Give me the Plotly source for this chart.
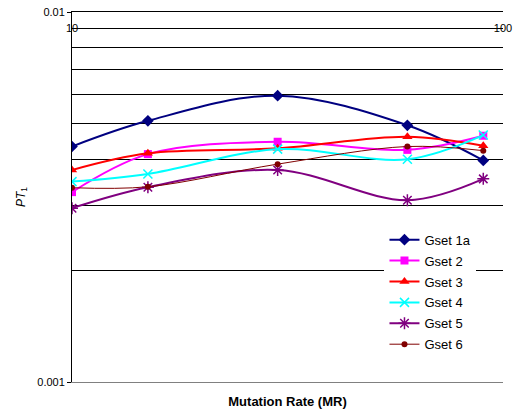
import plotly.graph_objects as go

mutation_rate = [10, 15, 30, 60, 90]
gset_1a = [0.00433, 0.00508, 0.00594, 0.00494, 0.00397]
gset_2 = [0.00326, 0.00413, 0.00446, 0.00424, 0.00463]
gset_3 = [0.00374, 0.00415, 0.00428, 0.00460, 0.00435]
gset_4 = [0.00348, 0.00365, 0.00426, 0.00400, 0.00465]
gset_5 = [0.00295, 0.00336, 0.00374, 0.00310, 0.00354]
gset_6 = [0.00335, 0.00337, 0.00388, 0.00433, 0.00422]

series_names = ["Gset 1a", "Gset 2", "Gset 3", "Gset 4", "Gset 5", "Gset 6"]
series_values = [gset_1a, gset_2, gset_3, gset_4, gset_5, gset_6]
colors = ["#000080", "#FF00FF", "#FF0000", "#00FFFF", "#800080", "#800000"]
symbols = ["diamond", "square", "triangle-up", "x-thin-open", "asterisk-open", "circle"]
sizes = [9, 8, 9, 9, 10, 6]
widths = [2, 2, 2, 2, 2, 1]
# both x axes share the same fixed log range; the last series sits on the top axis
axis_of_series = ["x", "x", "x", "x", "x", "x2"]

y_major = [0.001, 0.01]
y_major_text = ["0.001", "0.01"]
y_minor = [0.002, 0.003, 0.004, 0.005, 0.006, 0.007, 0.008, 0.009]
x_ticks = [10, 100]
x_tick_text = ["10", "100"]

FONT = "Liberation Sans, Arial, sans-serif"

fig = go.Figure()
for name, vals, c, s, sz, w, ax in zip(series_names, series_values, colors, symbols, sizes, widths, axis_of_series):
    mk = dict(symbol=s, size=sz, color=c)
    if s.endswith("open"):
        mk["line"] = dict(color=c, width=1.5)
    fig.add_trace(go.Scatter(
        x=mutation_rate, y=vals, name=name, mode="lines+markers",
        xaxis=ax, yaxis="y", legendgroup=name,
        line=dict(color=c, width=w, shape="spline", smoothing=1.0),
        marker=mk,
    ))

fig.update_layout(
    width=519, height=415,
    margin=dict(l=72, r=16, t=12, b=33, autoexpand=False),
    paper_bgcolor="white", plot_bgcolor="white",
    font=dict(family=FONT, size=11, color="black"),
    showlegend=True,
    legend=dict(x=0.725, y=0.425, xanchor="left", yanchor="top",
                bgcolor="white", font=dict(size=13, family=FONT),
                itemwidth=30, tracegroupgap=1),
    xaxis=dict(type="log", range=[1, 2], showgrid=False, zeroline=False, automargin=False,
               showticklabels=False, ticks="", showline=True, linecolor="#808080", linewidth=1,
               title=dict(text="<b>Mutation Rate (MR)</b>", font=dict(size=13, family=FONT), standoff=14)),
    xaxis2=dict(type="log", range=[1, 2], overlaying="x", side="top", anchor="y",
                showgrid=False, zeroline=False, tickvals=x_ticks, ticktext=x_tick_text,
                ticks="inside", ticklen=3, tickcolor="black", automargin=False,
                ticklabelstandoff=-25, showline=True, linecolor="black", linewidth=1,
                tickfont=dict(size=11, family=FONT)),
    yaxis=dict(type="log", range=[-3, -2], tickvals=y_major, ticktext=y_major_text,
               ticks="outside", ticklen=4, tickcolor="black", automargin=False,
               showline=True, linecolor="black", linewidth=1,
               showgrid=True, gridcolor="#808080", gridwidth=1, zeroline=False,
               minor=dict(tickvals=y_minor, showgrid=True, gridcolor="black", gridwidth=1, ticks=""),
               title=dict(text="<i>PT</i><sub>1</sub>", font=dict(size=12, family=FONT), standoff=9)),
    yaxis2=dict(type="log", range=[-3, -2], overlaying="y", side="right", anchor="x",
                showgrid=False, zeroline=False, showticklabels=False, ticks="", automargin=False,
                showline=True, linecolor="#808080", linewidth=1),
)

fig.write_html("out.html")
